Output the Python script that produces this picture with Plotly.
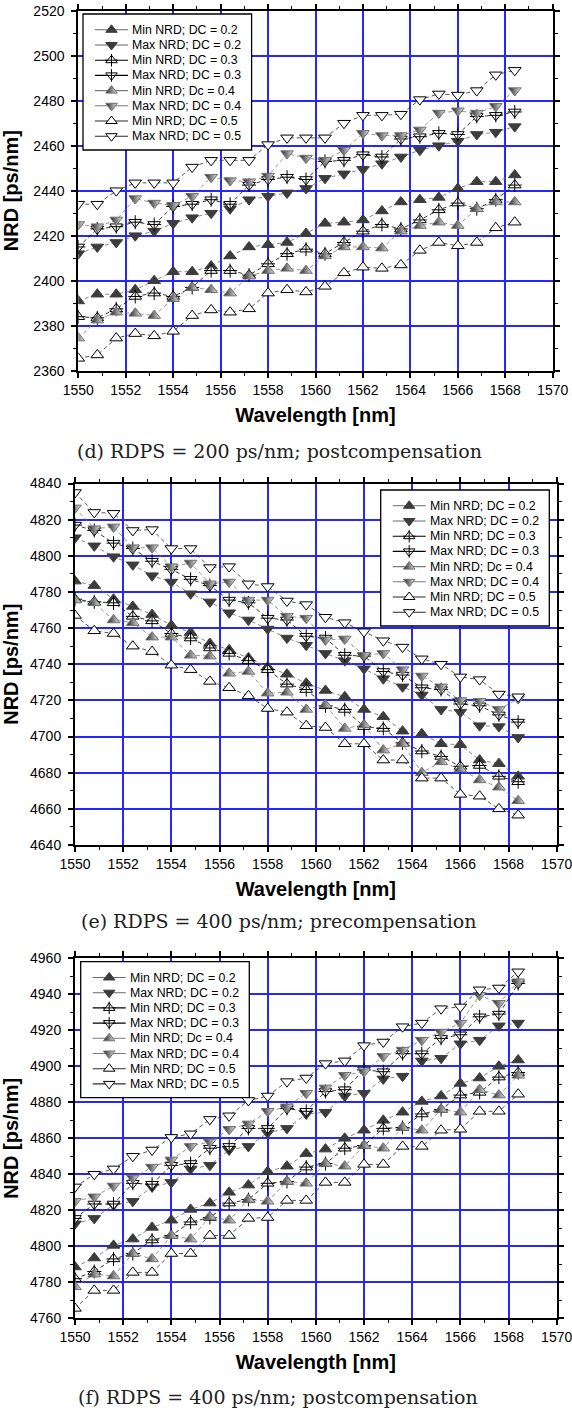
import plotly.graph_objects as go

# ---------------- data ----------------
wavelength_nm = [1550.0, 1550.8, 1551.6, 1552.4, 1553.2, 1554.0, 1554.8, 1555.6,
                 1556.4, 1557.2, 1558.0, 1558.8, 1559.6, 1560.4, 1561.2, 1562.0,
                 1562.8, 1563.6, 1564.4, 1565.2, 1566.0, 1566.8, 1567.6, 1568.4]

series_names = ["Min NRD; DC = 0.2", "Max NRD; DC = 0.2", "Min NRD; DC = 0.3",
                "Max NRD; DC = 0.3", "Min NRD; Dc = 0.4", "Max NRD; DC = 0.4",
                "Min NRD; DC = 0.5", "Max NRD; DC = 0.5"]

# (d) RDPS = 200 ps/nm; postcompensation
d_min_02 = [2391, 2394, 2394, 2396, 2400, 2404, 2404, 2406.5, 2411, 2415, 2416, 2417,
            2421, 2425.5, 2426, 2427, 2431, 2435, 2436, 2437, 2441, 2444, 2444, 2447]
d_max_02 = [2412, 2415, 2417, 2420, 2422, 2425.5, 2428, 2430, 2432, 2436, 2437.5, 2439,
            2441, 2445.5, 2447.5, 2449.5, 2452, 2455, 2458, 2460, 2462, 2465, 2466, 2468.5]
d_min_03 = [2384, 2383.5, 2387.5, 2393, 2394.5, 2393, 2397, 2404.5, 2404.5, 2402.5, 2407.5, 2412,
            2414, 2412, 2417, 2422, 2425, 2423, 2427, 2431.5, 2434.5, 2432, 2436, 2442.5]
d_max_03 = [2415, 2423, 2424, 2426, 2425, 2433, 2434, 2436, 2434, 2442.5, 2445, 2446,
            2445, 2453, 2453.5, 2456, 2455, 2463, 2464, 2465.5, 2465, 2473, 2473.5, 2475]
d_min_04 = [2374.5, 2382.5, 2386, 2385.5, 2384.5, 2392, 2397, 2396, 2394.5, 2402, 2404.5, 2405.5,
            2404.5, 2411, 2415, 2415, 2414.5, 2422, 2424.5, 2426, 2424.5, 2432, 2435, 2435]
d_max_04 = [2425, 2424, 2427, 2436.5, 2434.5, 2433.5, 2437.5, 2446, 2444.5, 2444, 2446.5, 2456.5,
            2454.5, 2453.5, 2458, 2465.5, 2464.5, 2464.5, 2467, 2474.5, 2475.5, 2474.5, 2477.5, 2484.5]
d_min_05 = [2365.5, 2367, 2374.5, 2376.5, 2375.5, 2377.5, 2384.5, 2387, 2386, 2387.5, 2394.5, 2396,
            2395, 2397.5, 2403.5, 2406, 2405.5, 2407, 2413.5, 2417, 2415.5, 2417, 2423.5, 2426]
d_max_05 = [2434, 2434, 2440, 2443.5, 2443.5, 2443.5, 2450.5, 2453.5, 2453.5, 2453.5, 2460.5, 2463.5,
            2463.5, 2463.5, 2470, 2473.5, 2473.5, 2474, 2480.5, 2483, 2482.5, 2484.5, 2491.5, 2493.5]

# (e) RDPS = 400 ps/nm; precompensation
e_min_02 = [4786, 4783.5, 4776, 4772, 4767.5, 4761.5, 4757.5, 4751.5, 4748, 4743.5, 4738.5, 4734.5,
            4729.5, 4725.5, 4722, 4715, 4711, 4703, 4701.5, 4696, 4695.5, 4687, 4685, 4678]
e_max_02 = [4810, 4805.5, 4799.5, 4795, 4789, 4785.5, 4779, 4774.5, 4768.5, 4764.5, 4759.5, 4754.5,
            4750.5, 4746, 4742, 4737.5, 4732, 4727.5, 4723, 4715, 4713.5, 4706, 4705.5, 4699.5]
e_min_03 = [4776, 4774.5, 4774, 4766.5, 4764, 4757, 4754.5, 4749, 4746, 4742, 4737, 4729,
            4726, 4717, 4715, 4705.5, 4704.5, 4696.5, 4692, 4689, 4683.5, 4684, 4678, 4675]
e_max_03 = [4817, 4814, 4807, 4804, 4797, 4792.5, 4787, 4783.5, 4775.5, 4774, 4765.5, 4764.5,
            4755.5, 4754.5, 4745, 4744.5, 4736, 4734, 4727, 4726, 4718, 4717, 4712, 4708]
e_min_04 = [4775.5, 4774, 4764.5, 4763, 4755, 4755, 4745, 4744.5, 4735, 4736, 4724, 4724.5,
            4715, 4717.5, 4704.5, 4706.5, 4692.5, 4696, 4680, 4686, 4682, 4676, 4672, 4664.5]
e_max_04 = [4826.5, 4815, 4816, 4804.5, 4804.5, 4794, 4796, 4784.5, 4785.5, 4775.5, 4775.5, 4766.5,
            4765.5, 4753.5, 4754, 4745, 4746, 4737, 4733.5, 4727.5, 4720, 4719.5, 4715, 4721]
e_min_05 = [4767, 4758.5, 4757, 4750, 4747, 4739.5, 4737, 4730.5, 4727, 4722.5, 4715.5, 4713.5,
            4706, 4705, 4696, 4696, 4687, 4687, 4677, 4677, 4668, 4667, 4660, 4656.5]
e_max_05 = [4835, 4824, 4823.5, 4814, 4814.5, 4804, 4804, 4793.5, 4794, 4784.5, 4783, 4775,
            4773, 4766, 4763, 4758, 4753, 4749.5, 4743, 4740, 4733, 4731.5, 4723.5, 4722]

# (f) RDPS = 400 ps/nm; postcompensation
f_min_02 = [4788.5, 4793.5, 4800.5, 4804, 4810.5, 4814.5, 4820.5, 4824, 4830, 4834, 4841.5, 4844.5,
            4851.5, 4854, 4860, 4864.5, 4870, 4874.5, 4880.5, 4883.5, 4890.5, 4893.5, 4900, 4903.5]
f_max_02 = [4812.5, 4815.5, 4823, 4825, 4833, 4835.5, 4843, 4845, 4853.5, 4855.5, 4863, 4865.5,
            4873.5, 4874.5, 4883.5, 4885, 4893, 4894.5, 4903, 4904.5, 4912.5, 4914.5, 4922.5, 4924]
f_min_03 = [4782, 4786, 4793, 4796, 4803.5, 4806, 4813.5, 4816, 4824, 4826, 4835, 4836,
            4844, 4846, 4854.5, 4856, 4865.5, 4866, 4873.5, 4876, 4884, 4885.5, 4894, 4896.5]
f_max_03 = [4815.5, 4823.5, 4823.5, 4835, 4834.5, 4845, 4846, 4854.5, 4855.5, 4865.5, 4865.5, 4876.5,
            4875, 4886, 4887, 4898, 4897, 4907, 4907, 4915.5, 4917.5, 4927.5, 4929, 4946]
f_min_04 = [4777.5, 4784.5, 4783.5, 4796, 4793, 4806, 4804, 4816.5, 4814.5, 4826, 4825, 4836,
            4835, 4846, 4844.5, 4856, 4854.5, 4866, 4864.5, 4876, 4874.5, 4887, 4884, 4895]
f_max_04 = [4825, 4827.5, 4833.5, 4838, 4844, 4848, 4855.5, 4858, 4865, 4868, 4875, 4877.5,
            4885, 4888, 4895, 4897, 4905.5, 4909, 4914.5, 4919, 4924, 4939.5, 4935, 4947]
f_min_05 = [4765.5, 4775.5, 4775.5, 4785.5, 4785.5, 4796, 4796, 4806, 4806, 4815.5, 4816, 4825.5,
            4825.5, 4835.5, 4835.5, 4845.5, 4845.5, 4855.5, 4855.5, 4864.5, 4865, 4875, 4875, 4884.5]
f_max_05 = [4833, 4840, 4843, 4850, 4853.5, 4860.5, 4862.5, 4870.5, 4872.5, 4881, 4883.5, 4891.5,
            4893.5, 4901.5, 4903, 4911.5, 4913.5, 4922, 4924, 4932, 4933, 4942.5, 4943.5, 4952.5]

x_ticks = [1550, 1552, 1554, 1556, 1558, 1560, 1562, 1564, 1566, 1568, 1570]

panels = [
    dict(series=[d_min_02, d_max_02, d_min_03, d_max_03, d_min_04, d_max_04, d_min_05, d_max_05],
         yrange=(2360, 2520), yticks=list(range(2360, 2521, 20)),
         caption="(d) RDPS = 200 ps/nm; postcompensation"),
    dict(series=[e_min_02, e_max_02, e_min_03, e_max_03, e_min_04, e_max_04, e_min_05, e_max_05],
         yrange=(4640, 4840), yticks=list(range(4640, 4841, 20)),
         caption="(e) RDPS = 400 ps/nm; precompensation"),
    dict(series=[f_min_02, f_max_02, f_min_03, f_max_03, f_min_04, f_max_04, f_min_05, f_max_05],
         yrange=(4760, 4960), yticks=list(range(4760, 4961, 20)),
         caption="(f) RDPS = 400 ps/nm; postcompensation"),
]

# ---------------- layout geometry (pixels) ----------------
W, H = 572, 1412
geom = [
    dict(left=78.3, right=552.7, top=10.7, bottom=370.7, box=(83, 14), cap=(75, 451)),
    dict(left=75.0, right=556.7, top=483.5, bottom=845.0, box=(380.7, 490), cap=(79, 921)),
    dict(left=75.0, right=556.7, top=958.3, bottom=1318.3, box=(80.7, 961.7), cap=(76, 1397)),
]
BOX_W, BOX_H = 168.6, 136.0
ROW0, ROW_STEP = 15.8, 15.2

DARK = "#3c3c3c"
styles = [
    dict(sym="triangle-up", fill=DARK, edge=DARK, grad=None, cross=False, lc="#6a6a6a"),
    dict(sym="triangle-down", fill=DARK, edge=DARK, grad=None, cross=False, lc="#6a6a6a"),
    dict(sym="triangle-up", fill="white", edge="black", grad=None, cross=True, lc="black"),
    dict(sym="triangle-down", fill="white", edge="black", grad=None, cross=True, lc="black"),
    dict(sym="triangle-up", fill="#1e1e1e", edge="#707070", grad="#e8e8e8", cross=False, lc="#7a7a7a"),
    dict(sym="triangle-down", fill="#1e1e1e", edge="#707070", grad="#e8e8e8", cross=False, lc="#7a7a7a"),
    dict(sym="triangle-up", fill="white", edge="black", grad=None, cross=False, lc="#2a2a2a"),
    dict(sym="triangle-down", fill="white", edge="black", grad=None, cross=False, lc="#2a2a2a"),
]

FONT = "Liberation Sans, Arial, sans-serif"
fig = go.Figure()


def marker_dict(st, size):
    m = dict(symbol=st["sym"], size=size, color=st["fill"],
             line=dict(color=st["edge"], width=1))
    if st["grad"]:
        m["gradient"] = dict(type="horizontal", color=st["grad"])
    return m


annotations = []
shapes = []
layout_axes = {}

for i, (p, g) in enumerate(zip(panels, geom)):
    n = "" if i == 0 else str(i + 1)
    xa, ya = "x" + n, "y" + n
    x0, x1 = 1550, 1570
    y0, y1 = p["yrange"]

    # data traces
    for vals, name, st in zip(p["series"], series_names, styles):
        fig.add_trace(go.Scatter(
            x=wavelength_nm, y=vals, name=name, mode="lines+markers",
            xaxis=xa, yaxis=ya, showlegend=False,
            line=dict(color=st["lc"], width=0.8, dash="4px,3px"),
            marker=marker_dict(st, 11)))
        if st["cross"]:
            fig.add_trace(go.Scatter(
                x=wavelength_nm, y=vals, mode="markers", xaxis=xa, yaxis=ya,
                showlegend=False, hoverinfo="skip",
                marker=dict(symbol="cross-thin", size=10,
                            line=dict(color="black", width=1))))

    # pixel -> data helpers for the in-plot legend
    def px2x(px, g=g, x0=x0, x1=x1):
        return x0 + (px - g["left"]) / (g["right"] - g["left"]) * (x1 - x0)

    def py2y(py, g=g, y0=y0, y1=y1):
        return y1 - (py - g["top"]) / (g["bottom"] - g["top"]) * (y1 - y0)

    bx, by = g["box"]
    shapes.append(dict(type="rect", xref=xa, yref=ya, layer="between",
                       x0=px2x(bx), x1=px2x(bx + BOX_W), y0=py2y(by), y1=py2y(by + BOX_H),
                       fillcolor="white", line=dict(color="black", width=1.3)))
    for k, (name, st) in enumerate(zip(series_names, styles)):
        ry = py2y(by + ROW0 + k * ROW_STEP)
        fig.add_trace(go.Scatter(
            x=[px2x(bx + 12), px2x(bx + 45)], y=[ry, ry], mode="lines",
            xaxis=xa, yaxis=ya, showlegend=False, hoverinfo="skip",
            line=dict(color=st["lc"], width=1.1)))
        fig.add_trace(go.Scatter(
            x=[px2x(bx + 28.5)], y=[ry], mode="markers", xaxis=xa, yaxis=ya,
            showlegend=False, hoverinfo="skip", marker=marker_dict(st, 10)))
        if st["cross"]:
            fig.add_trace(go.Scatter(
                x=[px2x(bx + 28.5)], y=[ry], mode="markers", xaxis=xa, yaxis=ya,
                showlegend=False, hoverinfo="skip",
                marker=dict(symbol="cross-thin", size=9, line=dict(color="black", width=1))))
        annotations.append(dict(xref=xa, yref=ya, x=px2x(bx + 47), y=ry, text=name,
                                showarrow=False, xanchor="left", yanchor="middle",
                                font=dict(family=FONT, size=12.3, color="black")))

    # caption
    cx, cy = g["cap"]
    annotations.append(dict(xref="paper", yref="paper", x=cx / W, y=1 - cy / H,
                            text=p["caption"], showarrow=False, xanchor="left",
                            yanchor="middle",
                            font=dict(family="DejaVu Serif, serif", size=19, color="#222")))

    axis_common = dict(showline=True, linecolor="black", linewidth=2, mirror="ticks",
                       ticks="outside", ticklen=5, tickwidth=1.5, tickcolor="black",
                       showgrid=True, gridcolor="#2626ff", gridwidth=1.6, zeroline=False,
                       automargin=False, ticklabeloverflow="allow",
                       tickfont=dict(family=FONT, size=14, color="black"))
    layout_axes["xaxis" + n] = dict(
        axis_common, domain=[g["left"] / W, g["right"] / W], anchor=ya,
        range=[x0, x1], tickmode="array", tickvals=x_ticks,
        minor=dict(dtick=1, ticks="outside", ticklen=3, tickwidth=1.2, tickcolor="black",
                   showgrid=False),
        title=dict(text="<b>Wavelength [nm]</b>", standoff=11,
                   font=dict(family=FONT, size=20, color="black")))
    layout_axes["yaxis" + n] = dict(
        axis_common, domain=[1 - g["bottom"] / H, 1 - g["top"] / H], anchor=xa,
        range=[y0, y1], tickmode="array", tickvals=p["yticks"],
        minor=dict(dtick=10, ticks="outside", ticklen=3, tickwidth=1.2, tickcolor="black",
                   showgrid=False),
        ticklabelstandoff=4,
        title=dict(text="<b>NRD [ps/nm]</b>", standoff=10,
                   font=dict(family=FONT, size=20, color="black")))

fig.update_layout(
    width=W, height=H, margin=dict(l=0, r=0, t=0, b=0, pad=0, autoexpand=False),
    paper_bgcolor="white", plot_bgcolor="white",
    showlegend=False, annotations=annotations, shapes=shapes,
    **layout_axes)

fig.write_html("out.html")
